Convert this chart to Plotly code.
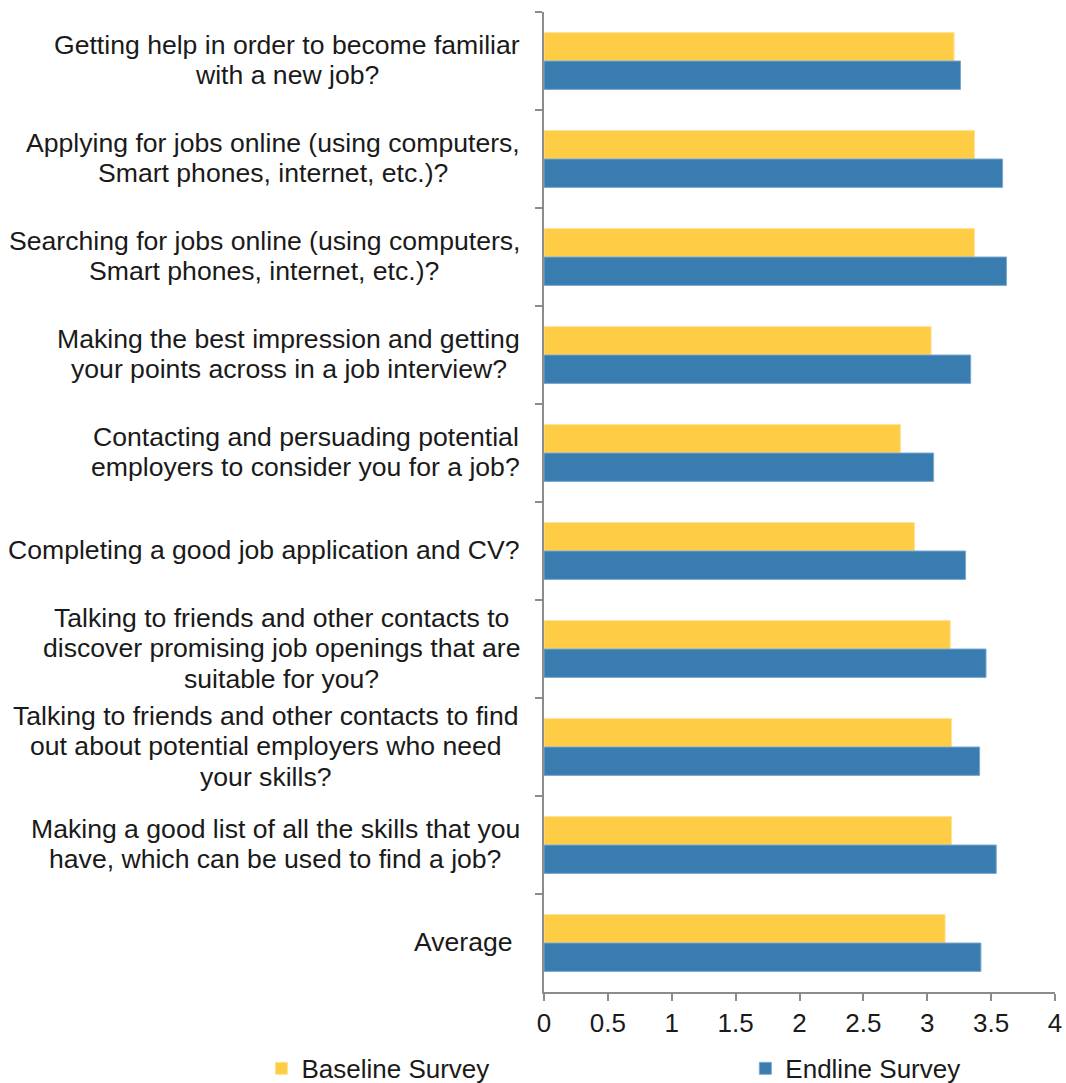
import plotly.graph_objects as go

# Survey items (top to bottom); each entry is a list of label lines
categories = [
    "Getting help in order to become familiar with a new job?",
    "Applying for jobs online (using computers, Smart phones, internet, etc.)?",
    "Searching for jobs online (using computers, Smart phones, internet, etc.)?",
    "Making the best impression and getting your points across in a job interview?",
    "Contacting and persuading potential employers to consider you for a job?",
    "Completing a good job application and CV?",
    "Talking to friends and other contacts to discover promising job openings that are suitable for you?",
    "Talking to friends and other contacts to find out about potential employers who need your skills?",
    "Making a good list of all the skills that you have, which can be used to find a job?",
    "Average ",
]
category_lines = [
    ["Getting help in order to become familiar", "with a new job?"],
    ["Applying for jobs online (using computers,", "Smart phones, internet, etc.)?"],
    ["Searching for jobs online (using computers,", "Smart phones, internet, etc.)?"],
    ["Making the best impression and getting", "your points across in a job interview?"],
    ["Contacting and persuading potential", "employers to consider you for a job?"],
    ["Completing a good job application and CV?"],
    ["Talking to friends and other contacts to", "discover promising job openings that are", "suitable for you?"],
    ["Talking to friends and other contacts to find", "out about potential employers who need", "your skills?"],
    ["Making a good list of all the skills that you", "have, which can be used to find a job?"],
    ["Average "],
]

baseline = [3.21, 3.37, 3.37, 3.03, 2.79, 2.90, 3.18, 3.19, 3.19, 3.14]
endline = [3.26, 3.59, 3.62, 3.34, 3.05, 3.30, 3.46, 3.41, 3.54, 3.42]

x_ticks = [0, 0.5, 1, 1.5, 2, 2.5, 3, 3.5, 4]
x_tick_text = ["0", "0.5", "1", "1.5", "2", "2.5", "3", "3.5", "4"]

FONT = "Liberation Sans, Arial, sans-serif"
FS = 26
LABEL_FS = 26.6
TEXT = "#1a1a1a"
YELLOW = "rgb(255,205,69)"
BLUE = "rgb(57,125,176)"
AXIS = "#8c8c8c"
LABEL_GAP = 24      # px between label block and the axis
LINE_STEP = 30.5    # px between label lines

# Arial / Liberation Sans advance widths (1/1000 em) for centring label lines
_W = {" ": 278, ",": 278, ".": 278, "?": 556, "(": 333, ")": 333,
      "A": 667, "C": 722, "M": 833, "S": 667, "T": 611, "V": 667, "G": 778,
      "a": 556, "b": 556, "c": 500, "d": 556, "e": 556, "f": 278, "g": 556,
      "h": 556, "i": 222, "j": 222, "k": 500, "l": 222, "m": 833, "n": 556,
      "o": 556, "p": 556, "q": 556, "r": 333, "s": 500, "t": 278, "u": 556,
      "v": 500, "w": 722, "x": 500, "y": 500, "z": 500}


def text_width(s, size):
    return sum(_W.get(ch, 556) for ch in s) * size / 1000.0


fig = go.Figure()
fig.add_trace(go.Bar(
    y=categories, x=baseline, orientation="h", name="Baseline Survey",
    marker=dict(color=YELLOW, line=dict(color="rgb(255,226,150)", width=1)),
    legend="legend",
))
fig.add_trace(go.Bar(
    y=categories, x=endline, orientation="h", name="Endline Survey",
    marker=dict(color=BLUE, line=dict(color="rgb(125,168,206)", width=1)),
    legend="legend2",
))

# Multi-line category labels: lines centred within a block that sits flush
# against the axis
for cat, lines in zip(categories, category_lines):
    block_w = max(text_width(s, LABEL_FS) for s in lines)
    n = len(lines)
    for i, line in enumerate(lines):
        fig.add_annotation(
            x=0, xref="paper", y=cat, yref="y",
            xanchor="center", yanchor="middle",
            xshift=-(LABEL_GAP + block_w / 2),
            yshift=((n - 1) / 2 - i) * LINE_STEP + 1,
            text=line, showarrow=False,
            font=dict(family=FONT, size=LABEL_FS, color=TEXT),
        )

legend_style = dict(
    orientation="h", yanchor="middle", y=-0.078,
    font=dict(family=FONT, size=FS, color=TEXT),
    bgcolor="rgba(0,0,0,0)",
)

fig.update_layout(
    width=1066, height=1083,
    margin=dict(l=544, r=11, t=12, b=91, autoexpand=False),
    paper_bgcolor="white", plot_bgcolor="white",
    barmode="group", bargap=0.42, bargroupgap=0,
    font=dict(family=FONT, size=FS, color=TEXT),
    showlegend=True,
    legend=dict(x=-0.553, xanchor="left", **legend_style),
    legend2=dict(x=0.394, xanchor="left", **legend_style),
    xaxis=dict(
        range=[0, 4], tickvals=x_ticks, ticktext=x_tick_text,
        showgrid=False, zeroline=False,
        showline=True, linecolor=AXIS, linewidth=2,
        ticks="outside", ticklen=7, tickwidth=2, tickcolor=AXIS,
        tickfont=dict(family=FONT, size=FS, color=TEXT),
    ),
    yaxis=dict(
        autorange="reversed", showticklabels=False,
        showgrid=False, showline=True, linecolor=AXIS, linewidth=2,
        ticks="outside", ticklen=7, tickwidth=2, tickcolor=AXIS,
        tickson="boundaries",
    ),
)

fig.write_html("out.html")
